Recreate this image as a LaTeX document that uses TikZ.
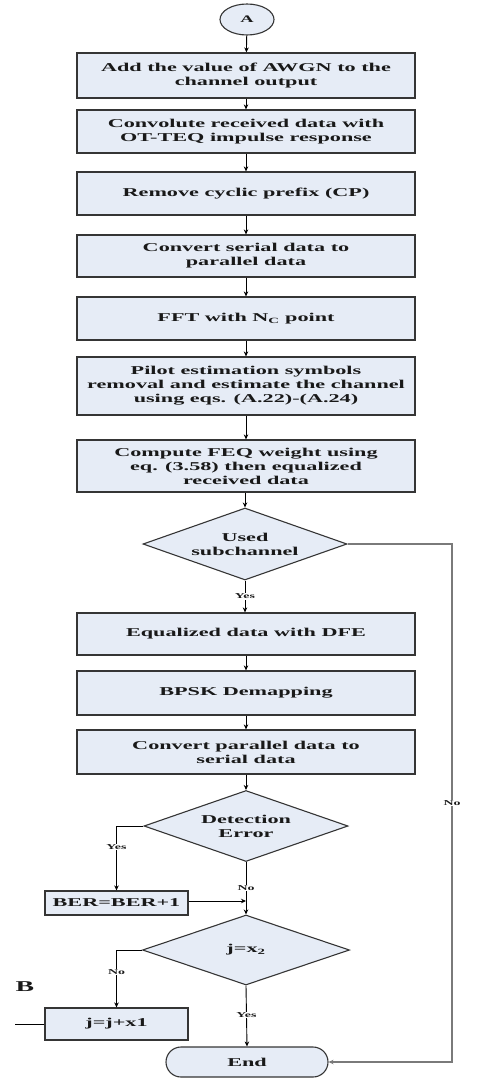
\documentclass[tikz,border=0pt]{standalone}
\usepackage{fontspec}
\setmainfont{Liberation Serif}[FakeStretch=1.85]
\usetikzlibrary{shapes.geometric,arrows.meta}
\definecolor{boxfill}{HTML}{E6ECF6}
\definecolor{edge}{HTML}{353535}
\definecolor{noline}{HTML}{7A7A7A}
\begin{document}
\begin{tikzpicture}[x=1pt,y=-1pt,
  every node/.style={font=\bfseries\fontsize{12}{14}\selectfont, text=black!90},
  proc/.style={rectangle, draw=edge, line width=1.2pt, fill=boxfill, minimum width=338pt, align=center, inner sep=0pt},
  smallproc/.style={rectangle, draw=edge, line width=1.2pt, fill=boxfill, minimum width=143pt, align=center, inner sep=0pt},
  dec/.style={diamond, draw=edge, line width=1.1pt, fill=boxfill, align=center, inner sep=0pt, aspect=2.9},
  lab/.style={fill=white, inner sep=0.6pt, font=\bfseries\fontsize{7.5}{8}\selectfont},
  arr/.style={-{Stealth[length=5pt,width=4.5pt]}, line width=0.9pt, draw=black},
  ln/.style={line width=0.9pt, draw=black}]
\useasboundingbox (0,0) rectangle (490,1078);

\node[ellipse, draw=edge, line width=1.1pt, fill=boxfill, minimum width=54pt, minimum height=31pt, inner sep=0pt, font=\bfseries\fontsize{10}{12}\selectfont] (A) at (247,19.5) {A};

\node[proc, minimum height=45pt] (b1) at (246,75.5) {Add the value of AWGN to the\\channel output};
\node[proc, minimum height=43pt] (b2) at (246,131.5) {Convolute received data with\\OT-TEQ impulse response};
\node[proc, minimum height=43pt] (b3) at (246,193.5) {Remove cyclic prefix (CP)};
\node[proc, minimum height=42pt] (b4) at (246,256) {Convert serial data to\\parallel data};
\node[proc, minimum height=43pt] (b5) at (246,318.5) {FFT with N\textsubscript{C} point};
\node[proc, minimum height=58pt] (b6) at (246,386) {Pilot estimation symbols\\removal and estimate the channel\\using eqs. (A.22)-(A.24)};
\node[proc, minimum height=52pt] (b7) at (246,466) {Compute FEQ weight using\\eq. (3.58) then equalized\\received data};

\node[dec, minimum width=204pt, minimum height=72pt] (d1) at (245,544) {Used\\subchannel};

\node[proc, minimum height=42pt] (b8) at (246,634) {Equalized data with DFE};
\node[proc, minimum height=44pt] (b9) at (246,693) {BPSK Demapping};
\node[proc, minimum height=44pt] (b10) at (246,752) {Convert parallel data to\\serial data};

\node[dec, minimum width=204pt, minimum height=71pt] (d2) at (246,826) {Detection\\Error};

\node[smallproc, minimum height=24pt] (ber) at (116.5,903) {BER=BER+1};
\coordinate (J) at (246,901);

\node[dec, minimum width=207pt, minimum height=70pt] (d3) at (246,950) {j=x\textsubscript{2}};

\node[smallproc, minimum height=32pt] (jb) at (116.5,1024) {j=j+x1};
\node[font=\bfseries\fontsize{15}{16}\selectfont] (B) at (25,987) {B};
\coordinate (Bend) at (15,1024);

\node[rectangle, rounded corners=15pt, draw=edge, line width=1.1pt, fill=boxfill, minimum width=162pt, minimum height=30pt, inner sep=0pt] (end) at (247,1062) {End};

\coordinate (R1) at (452,544);
\coordinate (R2) at (452,1062);

% connectors
\draw[arr] (A) -- (b1);
\draw[arr] (b1) -- (b2);
\draw[arr] (b2) -- (b3);
\draw[arr] (b3) -- (b4);
\draw[arr] (b4) -- (b5);
\draw[arr] (b5) -- (b6);
\draw[arr] (b6) -- (b7);
\draw[arr] (b7.south -| d1.north) -- (d1.north);
\draw[arr] (d1.south) -- node[lab]{Yes} (b8.north -| d1.south);
\draw[arr] (b8) -- (b9);
\draw[arr] (b9) -- (b10);
\draw[arr] (b10) -- (d2);
\draw[arr] (d2.west) -| node[lab, pos=0.66]{Yes} (ber.north);
\draw[ln] (d2.south) -- node[lab, pos=0.67]{No} (J);
\draw[arr] (ber.east |- J) -- (J);
\draw[arr] (J) -- (d3.north);
\draw[arr] (d3.west) -| node[lab, pos=0.69]{No} (jb.north);
\draw[arr] (d3.south) -- node[lab, pos=0.48]{Yes} (end.north);
\draw[ln] (jb.west) -- (Bend);
\draw[arr, draw=noline, line width=1.4pt] (d1.east) -- (R1) -- node[lab]{No} (R2) -- (end.east);
\end{tikzpicture}
\end{document}
